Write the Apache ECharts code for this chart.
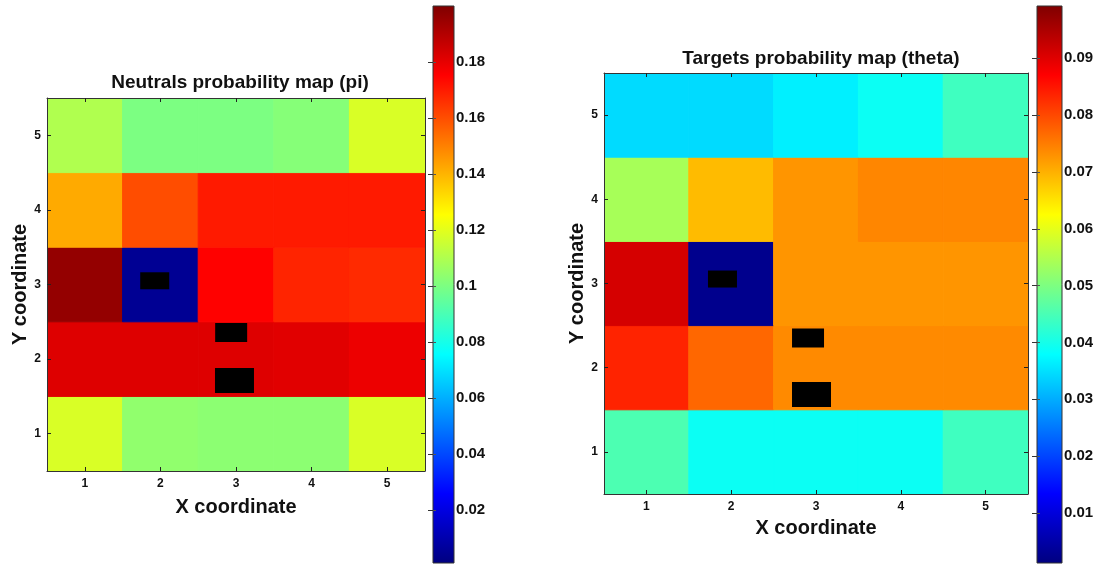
<!DOCTYPE html>
<html><head><meta charset="utf-8">
<script src="https://cdn.jsdelivr.net/npm/echarts@6/dist/echarts.min.js"></script>
<style>html,body{margin:0;padding:0;background:#fff}#c{width:1097px;height:565px}</style>
</head><body><div id="c"></div>
<script>
// ---- data ----
const xTicks = [1, 2, 3, 4, 5];
const yTicks = [1, 2, 3, 4, 5];
// Neutrals probability (pi): one array per Y coordinate, values for X = 1..5
const piY1 = [0.118, 0.104, 0.103, 0.103, 0.118];
const piY2 = [0.1816, 0.1816, 0.1816, 0.181, 0.1786];
const piY3 = [0.196, 0.005, 0.175, 0.168, 0.167];
const piY4 = [0.142, 0.160, 0.170, 0.170, 0.170];
const piY5 = [0.110, 0.100, 0.100, 0.102, 0.118];
// Targets probability (theta)
const thY1 = [0.0453, 0.039, 0.039, 0.039, 0.044];
const thY2 = [0.0836, 0.077, 0.0736, 0.0736, 0.0736];
const thY3 = [0.091, 0.0025, 0.0726, 0.0726, 0.0726];
const thY4 = [0.054, 0.069, 0.0726, 0.074, 0.074];
const thY5 = [0.0345, 0.0345, 0.0365, 0.039, 0.044];
// colour scale ranges and colourbar ticks
const piRange = [0.0011, 0.2];
const thetaRange = [0.0012, 0.0992];
const piBarTicks = [0.02, 0.04, 0.06, 0.08, 0.1, 0.12, 0.14, 0.16, 0.18];
const thetaBarTicks = [0.01, 0.02, 0.03, 0.04, 0.05, 0.06, 0.07, 0.08, 0.09];
// small black annotation boxes (data coordinates)
const piMarks = [[1.925, 3.05], [2.936, 2.355], [2.98, 1.712]];
const thetaMarks = [[1.897, 3.053], [2.906, 2.353], [2.947, 1.682]];

// ---- styles ----
const markSizes = [[29, 17], [32, 19], [39, 25]];
const jet = ['#00007f', '#0000ff', '#007fff', '#00ffff', '#7fff7f', '#ffff00', '#ff7f00', '#ff0000', '#7f0000'];
const FONT = "'Liberation Sans', Arial, sans-serif";

function toCells(rows) {
  const out = [];
  rows.forEach((row, yi) => row.forEach((v, xi) => out.push([xTicks[xi], yTicks[yi], v])));
  return out;
}
const piCells = toCells([piY1, piY2, piY3, piY4, piY5]);
const thCells = toCells([thY1, thY2, thY3, thY4, thY5]);

function cellRender(params, api) {
  const x = api.value(0), y = api.value(1);
  const p0 = api.coord([x - 0.5, y + 0.5]);
  const p1 = api.coord([x + 0.5, y - 0.5]);
  const c = api.visual('color');
  return { type: 'rect', shape: { x: p0[0], y: p0[1], width: p1[0] - p0[0], height: p1[1] - p0[1] },
    style: { fill: c, stroke: c, lineWidth: 1 } };
}
function barRender(range) {
  return function (params, api) {
    const p0 = api.coord([0, range[1]]);
    const p1 = api.coord([1, range[0]]);
    const stops = jet.map((c, i) => ({ offset: i / (jet.length - 1), color: c }));
    return { type: 'rect', shape: { x: p0[0], y: p0[1], width: p1[0] - p0[0], height: p1[1] - p0[1] },
      style: { fill: new echarts.graphic.LinearGradient(0, 1, 0, 0, stops), stroke: '#333', lineWidth: 1 } };
  };
}

const tick = { show: true, inside: true, length: 4, lineStyle: { color: '#222', width: 1 } };
function plotX(grid, gap) {
  return [
    { gridIndex: grid, type: 'value', min: 0.5, max: 5.5, position: 'bottom', z: 10,
      axisLine: { show: true, lineStyle: { color: '#333', width: 1 } },
      axisTick: Object.assign({ customValues: xTicks }, tick),
      axisLabel: { customValues: xTicks, fontSize: 12, fontWeight: 'bold', color: '#111', margin: 7, fontFamily: FONT },
      splitLine: { show: false },
      name: 'X coordinate', nameLocation: 'middle', nameGap: gap,
      nameTextStyle: { fontSize: 20, fontWeight: 'bold', color: '#111', fontFamily: FONT } },
    { gridIndex: grid, type: 'value', min: 0.5, max: 5.5, position: 'top', z: 10,
      axisLine: { show: true, lineStyle: { color: '#333', width: 1 } },
      axisTick: Object.assign({ customValues: xTicks }, tick),
      axisLabel: { show: false }, splitLine: { show: false } }
  ];
}
function plotY(grid, gap) {
  return [
    { gridIndex: grid, type: 'value', min: 0.5, max: 5.5, position: 'left', z: 10,
      axisLine: { show: true, lineStyle: { color: '#333', width: 1 } },
      axisTick: Object.assign({ customValues: yTicks }, tick),
      axisLabel: { customValues: yTicks, fontSize: 12, fontWeight: 'bold', color: '#111', margin: 6, fontFamily: FONT },
      splitLine: { show: false },
      name: 'Y coordinate', nameLocation: 'middle', nameGap: gap,
      nameTextStyle: { fontSize: 20, fontWeight: 'bold', color: '#111', fontFamily: FONT } },
    { gridIndex: grid, type: 'value', min: 0.5, max: 5.5, position: 'right', z: 10,
      axisLine: { show: true, lineStyle: { color: '#333', width: 1 } },
      axisTick: Object.assign({ customValues: yTicks }, tick),
      axisLabel: { show: false }, splitLine: { show: false } }
  ];
}
function barY(grid, range, ticks) {
  return [
    { gridIndex: grid, type: 'value', min: range[0], max: range[1], position: 'right', z: 10,
      axisLine: { show: false },
      axisTick: { show: true, inside: true, length: 5, customValues: ticks, lineStyle: { color: '#333', width: 1 } },
      axisLabel: { customValues: ticks, formatter: v => String(v), fontSize: 15, fontWeight: 'bold', color: '#111', margin: 2, fontFamily: FONT },
      splitLine: { show: false } },
    { gridIndex: grid, type: 'value', min: range[0], max: range[1], position: 'left', z: 10,
      axisLine: { show: false },
      axisTick: { show: true, inside: true, length: 3, customValues: ticks, lineStyle: { color: '#555', width: 1 } },
      axisLabel: { show: false }, splitLine: { show: false } }
  ];
}
const hiddenX = g => ({ gridIndex: g, type: 'value', min: 0, max: 1, show: false });

function marksData(marks) {
  return marks.map((m, i) => ({ value: m, symbolSize: markSizes[i] }));
}

const chart = echarts.init(document.getElementById('c'), null, { renderer: 'canvas' });
chart.setOption({
  animation: false,
  backgroundColor: '#fff',
  textStyle: { fontFamily: FONT },
  title: [
    { text: 'Neutrals probability map (pi)', left: 235, top: 68, textAlign: 'center',
      textStyle: { fontSize: 19, fontWeight: 'bold', color: '#111', fontFamily: FONT } },
    { text: 'Targets probability map (theta)', left: 816, top: 44, textAlign: 'center',
      textStyle: { fontSize: 19, fontWeight: 'bold', color: '#111', fontFamily: FONT } }
  ],
  grid: [
    { left: 47, top: 98, width: 378, height: 373 },
    { left: 433, top: 6, width: 21, height: 557 },
    { left: 604, top: 73, width: 424, height: 421 },
    { left: 1037, top: 6, width: 25, height: 557 }
  ],
  xAxis: [].concat(plotX(0, 26), [hiddenX(1)], plotX(2, 24), [hiddenX(3)]),
  yAxis: [].concat(plotY(0, 15), barY(1, piRange, piBarTicks), plotY(2, 17), barY(3, thetaRange, thetaBarTicks)),
  visualMap: [
    { type: 'continuous', show: false, seriesIndex: 0, dimension: 2, min: piRange[0], max: piRange[1], inRange: { color: jet } },
    { type: 'continuous', show: false, seriesIndex: 3, dimension: 2, min: thetaRange[0], max: thetaRange[1], inRange: { color: jet } }
  ],
  series: [
    { type: 'custom', xAxisIndex: 0, yAxisIndex: 0, data: piCells, renderItem: cellRender, encode: { x: 0, y: 1 }, z: 2, clip: true },
    { type: 'scatter', xAxisIndex: 0, yAxisIndex: 0, symbol: 'rect', data: marksData(piMarks),
      itemStyle: { color: '#000', opacity: 1 }, z: 5 },
    { type: 'custom', xAxisIndex: 2, yAxisIndex: 2, data: [[0, piRange[0]]], renderItem: barRender(piRange), encode: { x: 0, y: 1 }, z: 2 },
    { type: 'custom', xAxisIndex: 3, yAxisIndex: 4, data: thCells, renderItem: cellRender, encode: { x: 0, y: 1 }, z: 2, clip: true },
    { type: 'scatter', xAxisIndex: 3, yAxisIndex: 4, symbol: 'rect', data: marksData(thetaMarks),
      itemStyle: { color: '#000', opacity: 1 }, z: 5 },
    { type: 'custom', xAxisIndex: 5, yAxisIndex: 6, data: [[0, thetaRange[0]]], renderItem: barRender(thetaRange), encode: { x: 0, y: 1 }, z: 2 }
  ]
});
</script>
</body></html>
